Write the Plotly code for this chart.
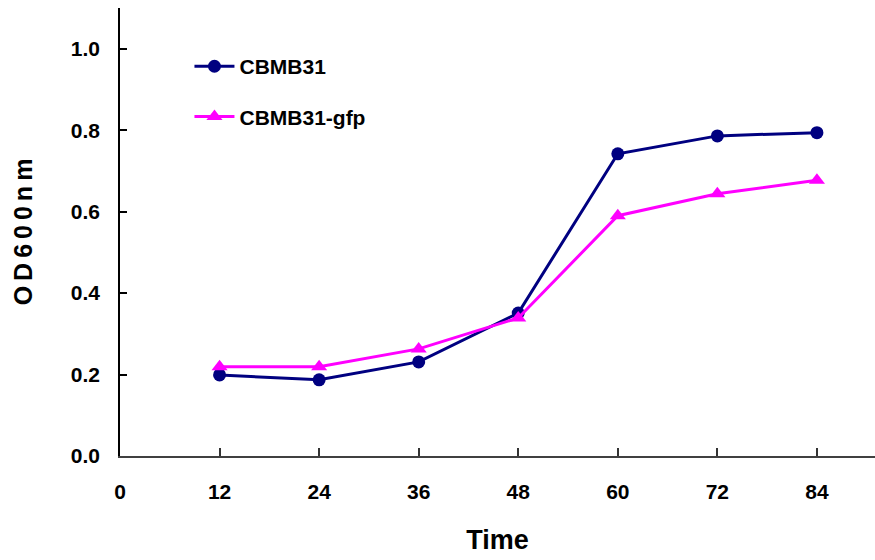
import plotly.graph_objects as go

time = [12, 24, 36, 48, 60, 72, 84]
cbmb31 = [0.199, 0.187, 0.231, 0.351, 0.742, 0.786, 0.794]
cbmb31_gfp = [0.219, 0.219, 0.263, 0.339, 0.590, 0.644, 0.677]
x_ticks = [0, 12, 24, 36, 48, 60, 72, 84]
y_ticks = [0.0, 0.2, 0.4, 0.6, 0.8, 1.0]

FONT = "Liberation Sans, Arial, sans-serif"

fig = go.Figure()
fig.add_trace(go.Scatter(
    x=time, y=cbmb31, name="CBMB31", mode="lines+markers",
    line=dict(color="#000080", width=3),
    marker=dict(symbol="circle", size=13, color="#000080"),
    legendgroup="a"))
fig.add_trace(go.Scatter(
    x=time, y=cbmb31_gfp, name="CBMB31-gfp", mode="lines+markers",
    line=dict(color="#FF00FF", width=3),
    marker=dict(symbol="triangle-up", size=14, color="#FF00FF"),
    legendgroup="b"))

fig.update_layout(
    width=875, height=560,
    margin=dict(l=120, r=0, t=8, b=104),
    paper_bgcolor="white", plot_bgcolor="white",
    font=dict(family=FONT, color="black"),
    showlegend=True,
    legend=dict(x=0.092, y=0.915, xanchor="left", yanchor="top",
                font=dict(size=21, family=FONT, weight="bold"),
                itemwidth=40,
                tracegroupgap=20, bgcolor="rgba(0,0,0,0)"),
    xaxis=dict(range=[0, 91], tickvals=x_ticks, ticktext=[str(v) for v in x_ticks],
               ticks="inside", ticklen=8, tickwidth=1.5, tickcolor="#333",
               showline=True, linecolor="#404040", linewidth=2,
               showgrid=False, zeroline=False,
               tickfont=dict(size=21, family=FONT, weight="bold"),
               ticklabelstandoff=16,
               title=dict(text="Time", font=dict(size=27, family=FONT, weight="bold"),
                          standoff=28)),
    yaxis=dict(range=[0, 1.1], tickvals=y_ticks, ticktext=["%.1f" % v for v in y_ticks],
               ticks="inside", ticklen=7, tickwidth=1.5, tickcolor="black",
               showline=True, linecolor="black", linewidth=1.5,
               showgrid=False, zeroline=False,
               tickfont=dict(size=21, family=FONT, weight="bold"),
               ticklabelstandoff=14,
               title=dict(text="O\u2009D\u20096\u20090\u20090\u2009n\u2009m",
                          font=dict(size=25, family=FONT, weight="bold"),
                          standoff=31)),
)

fig.write_html("out.html")
